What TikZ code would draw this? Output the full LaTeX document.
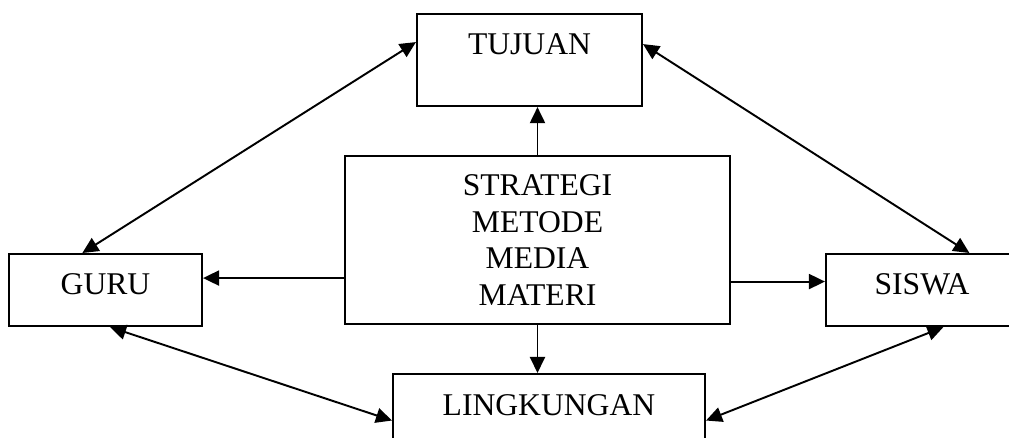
\documentclass[tikz,border=0pt]{standalone}
\usepackage{fontspec}
\setmainfont{Liberation Serif}
\usetikzlibrary{arrows.meta,calc,positioning}

\begin{document}
\begin{tikzpicture}[x=0.02cm, y=-0.02cm,
    kotak/.style={draw, line width=1.2pt, rectangle, inner xsep=0pt, inner ysep=0pt, align=center, font=\fontsize{18}{20.8}\selectfont},
    panah/.style={line width=1.1pt, -{Triangle[length=3.2mm, width=3mm]}},
    duaarah/.style={line width=1.1pt, {Triangle[length=3.2mm, width=3mm]}-{Triangle[length=3.2mm, width=3mm]}}
  ]
  \clip (0,0) rectangle (1009,438);
  \useasboundingbox (0,0) rectangle (1009,438);

  \node[kotak, anchor=north, minimum width=4.5cm, text height=8mm, text depth=10.4mm] (tujuan) at (529.5,13) {TUJUAN};
  \node[kotak, minimum width=7.7cm, minimum height=3.36cm] (strategi) at (537.5,240) {STRATEGI\\METODE\\MEDIA\\MATERI};
  \node[kotak, anchor=north, minimum width=3.86cm, text height=8mm, text depth=6.4mm] (guru) at (105.5,253) {GURU};
  \node[kotak, anchor=north, minimum width=3.84cm, text height=8mm, text depth=6.4mm] (siswa) at (922,253) {SISWA};
  \node[kotak, anchor=north, minimum width=6.24cm, text height=8.2mm, text depth=10.4mm] (lingkungan) at (549,373) {LINGKUNGAN};

  \draw[panah] (strategi.north) -- (strategi.north |- tujuan.south);
  \draw[panah] (strategi.south) -- (strategi.south |- lingkungan.north);
  \draw[panah] (strategi.west |- guru.7) -- (guru.7);
  \draw[panah] (strategi.east |- siswa.175) -- (siswa.175);

  \draw[duaarah] (guru.122) -- (tujuan.171);
  \draw[duaarah] (tujuan.8) -- (siswa.38);
  \draw[duaarah] (guru.-83) -- (lingkungan.west);
  \draw[duaarah] (lingkungan.east) -- (siswa.-60);
\end{tikzpicture}
\end{document}
